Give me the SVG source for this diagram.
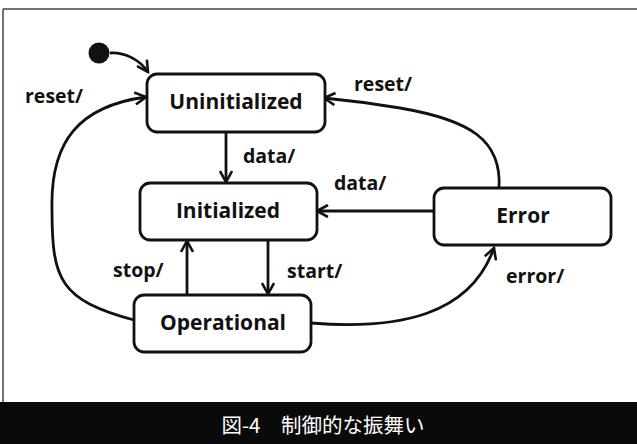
<svg xmlns="http://www.w3.org/2000/svg" width="637" height="444" viewBox="0 0 637 444">
<style>
.box{fill:#fff;stroke:#111;stroke-width:2.8}
.lbl{font-family:"Open Sans",Lato,sans-serif;font-weight:bold;fill:#111}
.name{font-size:21px;text-anchor:middle}
.ev{font-size:19.5px}
.edge{fill:none;stroke:#111;stroke-width:2.8}
</style>
<defs>
<marker id="arr" viewBox="0 0 14 14" refX="12" refY="7" markerWidth="14" markerHeight="14" markerUnits="userSpaceOnUse" orient="auto">
<path d="M1,1 L12,7 L1,13" fill="none" stroke="#111" stroke-width="2.6"/>
</marker>
</defs>
<rect width="637" height="444" fill="#fff"/>
<line x1="3" y1="9" x2="637" y2="9" stroke="#444" stroke-width="1.5"/>
<line x1="3" y1="9" x2="3" y2="402" stroke="#444" stroke-width="1.5"/>
<rect x="0" y="402" width="637" height="42" fill="#0a0a0a"/>
<text x="323" y="433" font-family="'Noto Sans CJK JP',sans-serif" font-size="20.5" fill="#fff" text-anchor="middle">図-4　制御的な振舞い</text>

<g id="connectors">
<path class="edge" d="M110,53 C125,52 140,60 148,72" marker-end="url(#arr)"/>
<path class="edge" d="M134,320 C60,300 52,280 52,210 C50,140 80,106 146,97" marker-end="url(#arr)"/>
<path class="edge" d="M226,133 L226,182" marker-end="url(#arr)"/>
<path class="edge" d="M187,295 L187,241" marker-end="url(#arr)"/>
<path class="edge" d="M268,240 L268,294" marker-end="url(#arr)"/>
<path class="edge" d="M434,211 L317,211" marker-end="url(#arr)"/>
<path class="edge" d="M499,188 C502,140 470,120 400,108 C370,103 345,100 324,98" marker-end="url(#arr)"/>
<path class="edge" d="M311,323 C400,330 470,315 494,248" marker-end="url(#arr)"/>
</g>
<g class="lbl ev">
<text x="25" y="103">reset/</text>
<text x="243" y="163">data/</text>
<text x="113" y="277">stop/</text>
<text x="287" y="278">start/</text>
<text x="334" y="190">data/</text>
<text x="354" y="91">reset/</text>
<text x="506" y="283">error/</text>
</g>

<g id="initial"><circle cx="99" cy="53" r="10.5" fill="#111"/></g>
<g id="uninitialized">
<rect class="box" x="147" y="74" width="178" height="58" rx="10"/>
<text class="lbl name" x="236" y="109">Uninitialized</text>
</g>
<g id="initialized">
<rect class="box" x="140" y="183" width="177" height="57" rx="10"/>
<text class="lbl name" x="228" y="218">Initialized</text>
</g>
<g id="error">
<rect class="box" x="434" y="188" width="177" height="57" rx="10"/>
<text class="lbl name" x="523" y="223">Error</text>
</g>
<g id="operational">
<rect class="box" x="134" y="295" width="177" height="57" rx="10"/>
<text class="lbl name" x="223" y="330">Operational</text>
</g>
</svg>
